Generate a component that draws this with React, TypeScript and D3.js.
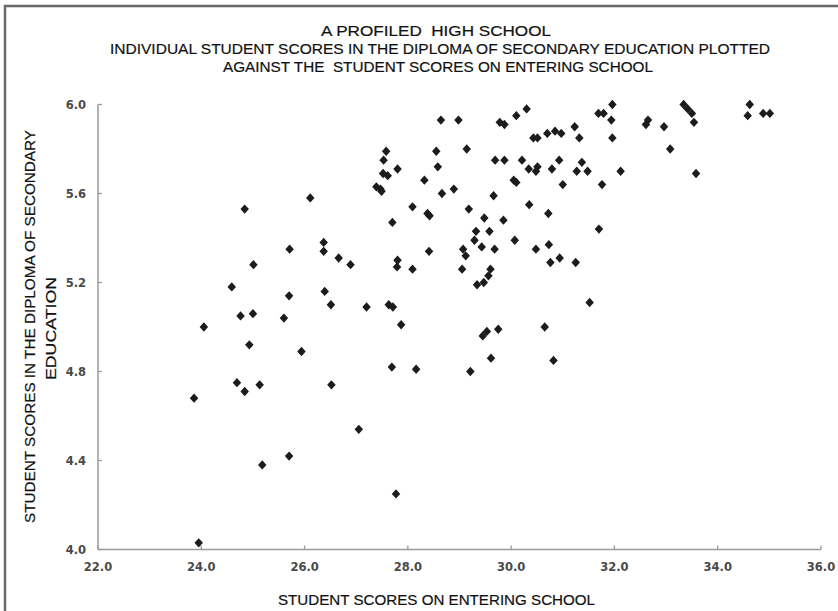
import React from "react";
import * as d3 from "d3";

// Entry score (x) and diploma score (y) for each student
const entryScores: number[] = [
  24.84, 26.11, 25.71, 26.37, 26.37, 26.66, 26.89, 25.01, 24.59, 25.70,
  26.39, 26.51, 24.76, 25.00, 25.60, 24.05, 24.93, 25.94, 24.69, 24.84,
  25.13, 26.52, 23.86, 25.70, 25.18, 23.95,
  27.87, 29.45, 29.53, 29.75, 30.65, 27.69, 28.16, 29.21, 29.61, 30.82,
  27.05, 27.77,
  31.96, 31.69, 31.79, 31.94, 31.23, 31.32, 31.96, 32.65, 32.61, 32.96,
  33.08, 33.34, 33.42, 33.50, 33.54, 34.62, 34.58, 34.88, 35.01, 33.58,
  31.37, 31.27, 31.48, 32.12, 31.76, 31.70, 31.25, 31.52,
  28.64, 28.98, 29.78, 29.87, 30.10, 30.30, 30.43, 30.51, 30.70, 30.85,
  30.97, 27.58, 27.53, 28.55, 29.14, 28.58, 27.52, 27.61, 27.80, 28.32,
  27.39, 27.47, 27.49, 28.66, 28.89, 29.69, 29.87, 30.21, 30.34, 30.51,
  30.48, 30.93, 30.79, 30.05, 30.10, 31.00, 29.66, 30.35, 30.72, 28.09,
  28.38, 28.42, 27.70, 29.18, 29.48, 29.85, 29.32, 29.58, 29.29, 30.07,
  29.43, 29.68, 28.41, 30.48, 30.73, 29.07, 29.12, 30.76, 30.94, 27.80,
  27.79, 28.09, 29.05, 29.60, 29.56, 29.34, 29.47, 27.20, 27.63, 27.71,
];

const diplomaScores: number[] = [
  5.53, 5.58, 5.35, 5.38, 5.34, 5.31, 5.28, 5.28, 5.18, 5.14,
  5.16, 5.10, 5.05, 5.06, 5.04, 5.00, 4.92, 4.89, 4.75, 4.71,
  4.74, 4.74, 4.68, 4.42, 4.38, 4.03,
  5.01, 4.96, 4.98, 4.99, 5.00, 4.82, 4.81, 4.80, 4.86, 4.85,
  4.54, 4.25,
  6.00, 5.96, 5.96, 5.93, 5.90, 5.85, 5.85, 5.93, 5.91, 5.90,
  5.80, 6.00, 5.98, 5.96, 5.92, 6.00, 5.95, 5.96, 5.96, 5.69,
  5.74, 5.70, 5.70, 5.70, 5.64, 5.44, 5.29, 5.11,
  5.93, 5.93, 5.92, 5.91, 5.95, 5.98, 5.85, 5.85, 5.87, 5.88,
  5.87, 5.79, 5.75, 5.79, 5.80, 5.72, 5.69, 5.68, 5.71, 5.66,
  5.63, 5.62, 5.61, 5.60, 5.62, 5.75, 5.75, 5.75, 5.71, 5.72,
  5.70, 5.75, 5.71, 5.66, 5.65, 5.64, 5.59, 5.55, 5.51, 5.54,
  5.51, 5.50, 5.47, 5.53, 5.49, 5.48, 5.43, 5.43, 5.39, 5.39,
  5.36, 5.35, 5.34, 5.35, 5.37, 5.35, 5.32, 5.29, 5.31, 5.30,
  5.27, 5.26, 5.26, 5.26, 5.23, 5.19, 5.20, 5.09, 5.10, 5.09,
];

const xTicks: number[] = [22, 24, 26, 28, 30, 32, 34, 36];
const yTicks: number[] = [4.0, 4.4, 4.8, 5.2, 5.6, 6.0];

const titleLines: string[] = [
  "A PROFILED  HIGH SCHOOL",
  "INDIVIDUAL STUDENT SCORES IN THE DIPLOMA OF SECONDARY EDUCATION PLOTTED",
  "AGAINST THE  STUDENT SCORES ON ENTERING SCHOOL",
];
const xTitle = "STUDENT SCORES ON ENTERING SCHOOL";
const yTitleLines: string[] = [
  "STUDENT SCORES IN THE DIPLOMA OF SECONDARY",
  "EDUCATION",
];

const W = 838;
const H = 611;
const plot = { left: 98, right: 821, top: 104.5, bottom: 549.5 };

const narrow = "'Liberation Sans Narrow', 'Liberation Sans', Arial, sans-serif";
const tickFont = "'DejaVu Sans', Verdana, sans-serif";

// rhombus marker, slightly taller than wide
const rhombus: d3.SymbolType = {
  draw(context, size) {
    const w = Math.sqrt(size / 2) * 0.95;
    const h = w * 1.1;
    context.moveTo(0, -h);
    context.lineTo(w, 0);
    context.lineTo(0, h);
    context.lineTo(-w, 0);
    context.closePath();
  },
};

export default function App() {
  const x = d3.scaleLinear().domain([22, 36]).range([plot.left, plot.right]);
  const y = d3.scaleLinear().domain([4, 6]).range([plot.bottom, plot.top]);
  const marker = d3.symbol().type(rhombus).size(40)() as string;

  const points = entryScores.map((v, i) => ({ x: v, y: diplomaScores[i] }));

  // title line placement: [left x, baseline y, rendered width]
  const titleLayout: [number, number, number][] = [
    [321, 36, 230],
    [110, 54, 660],
    [223, 72, 430],
  ];

  return (
    <svg
      width={W}
      height={H}
      style={{ position: "absolute", left: 0, top: 0, background: "#fff" }}
    >
      <rect x={0} y={0} width={W} height={H} fill="#fff" />
      {/* outer frame */}
      <rect
        x={5}
        y={6}
        width={W + 10}
        height={H + 10}
        fill="none"
        stroke="#6a6a6a"
        strokeWidth={2.5}
      />

      {titleLines.map((t, i) => (
        <text
          key={t}
          x={titleLayout[i][0]}
          y={titleLayout[i][1]}
          textLength={titleLayout[i][2]}
          lengthAdjust="spacingAndGlyphs"
          fontFamily={narrow}
          fontSize={15}
          fill="#111"
          stroke="#111"
          strokeWidth={0.2}
          style={{ whiteSpace: "pre" }}
        >
          {t}
        </text>
      ))}

      {/* axes */}
      <line
        x1={plot.left}
        x2={plot.left}
        y1={plot.top}
        y2={plot.bottom}
        stroke="#9a9a9a"
        strokeWidth={1.5}
      />
      <line
        x1={plot.left}
        x2={plot.right}
        y1={plot.bottom}
        y2={plot.bottom}
        stroke="#9a9a9a"
        strokeWidth={1.5}
      />
      {yTicks.map((t) => (
        <g key={"y" + t}>
          <line
            x1={plot.left}
            x2={plot.left + 4}
            y1={y(t)}
            y2={y(t)}
            stroke="#9a9a9a"
            strokeWidth={1.3}
          />
          <text
            x={plot.left - 12}
            y={y(t) + 4}
            textAnchor="end"
            fontFamily={tickFont}
            fontWeight="bold"
            fontSize={11.5}
            fill="#4a4a4a"
          >
            {t.toFixed(1)}
          </text>
        </g>
      ))}
      {xTicks.map((t) => (
        <g key={"x" + t}>
          <line
            x1={x(t)}
            x2={x(t)}
            y1={plot.bottom}
            y2={plot.bottom - 4}
            stroke="#9a9a9a"
            strokeWidth={1.3}
          />
          <text
            x={x(t)}
            y={571}
            textAnchor="middle"
            fontFamily={tickFont}
            fontWeight="bold"
            fontSize={11.5}
            fill="#4a4a4a"
          >
            {t.toFixed(1)}
          </text>
        </g>
      ))}

      {/* axis titles */}
      <text
        x={278}
        y={605}
        textLength={317}
        lengthAdjust="spacingAndGlyphs"
        fontFamily={narrow}
        fontSize={15}
        fill="#111"
        stroke="#111"
        strokeWidth={0.2}
      >
        {xTitle}
      </text>
      <text
        transform="translate(34.5,523) rotate(-90)"
        x={0}
        y={0}
        textLength={393}
        lengthAdjust="spacingAndGlyphs"
        fontFamily={narrow}
        fontSize={15}
        fill="#111"
        stroke="#111"
        strokeWidth={0.2}
      >
        {yTitleLines[0]}
      </text>
      <text
        transform="translate(55.5,380) rotate(-90)"
        x={0}
        y={0}
        textLength={103}
        lengthAdjust="spacingAndGlyphs"
        fontFamily={narrow}
        fontSize={15}
        fill="#111"
        stroke="#111"
        strokeWidth={0.2}
      >
        {yTitleLines[1]}
      </text>

      {/* student markers */}
      {points.map((p, i) => (
        <path
          key={i}
          d={marker}
          transform={`translate(${x(p.x)},${y(p.y)})`}
          fill="#1c1c1c"
        />
      ))}
    </svg>
  );
}
